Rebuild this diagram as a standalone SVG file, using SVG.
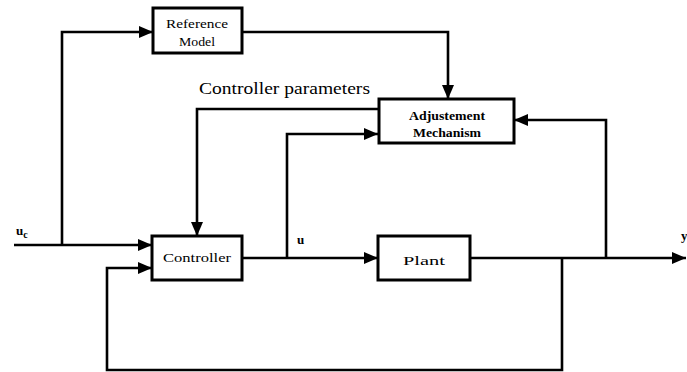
<svg xmlns="http://www.w3.org/2000/svg" width="687" height="372" viewBox="0 0 687 372">
<style>
.box{fill:#fff;stroke:#000;stroke-width:3}
.ln{fill:none;stroke:#000;stroke-width:2.6}
.t{font-family:"Liberation Serif","Times New Roman",serif;fill:#000}
.bt{font-family:"Liberation Serif","Times New Roman",serif;font-size:13px;text-anchor:middle;fill:#000}
</style>
<defs>
<marker id="ah" markerWidth="14" markerHeight="12" refX="14" refY="6" orient="auto" markerUnits="userSpaceOnUse">
<path d="M0,0 L14,6 L0,12 Z" fill="#000"/>
</marker>
</defs>
<rect width="687" height="372" fill="#fff"/>
<g id="connectors">
<path class="ln" d="M14,245 H152" marker-end="url(#ah)"/>
<path class="ln" d="M62,245 V32 H153" marker-end="url(#ah)"/>
<path class="ln" d="M242,32 H448 V99" marker-end="url(#ah)"/>
<path class="ln" d="M379,109 H197 V236" marker-end="url(#ah)"/>
<path class="ln" d="M242,258 H378" marker-end="url(#ah)"/>
<path class="ln" d="M287,258 V134 H378" marker-end="url(#ah)"/>
<path class="ln" d="M470,258 H686" marker-end="url(#ah)"/>
<path class="ln" d="M606,258 V120 H514" marker-end="url(#ah)"/>
<path class="ln" d="M562,258 V370 H107 V268 H152" marker-end="url(#ah)"/>
</g>
<g id="reference-model">
<rect class="box" x="153" y="8" width="89" height="45"/>
<text class="bt" x="197" y="28" textLength="62" lengthAdjust="spacingAndGlyphs">Reference</text>
<text class="bt" x="197" y="46" textLength="36" lengthAdjust="spacingAndGlyphs">Model</text>
</g>
<g id="adjustement-mechanism">
<rect class="box" x="379" y="99" width="135" height="44"/>
<text class="bt" x="447" y="120" font-weight="bold" font-size="12" textLength="76" lengthAdjust="spacingAndGlyphs">Adjustement</text>
<text class="bt" x="447" y="137" font-weight="bold" font-size="12" textLength="68" lengthAdjust="spacingAndGlyphs">Mechanism</text>
</g>
<g id="controller">
<rect class="box" x="152" y="236" width="90" height="44"/>
<text class="bt" x="197" y="262" font-size="14" textLength="68" lengthAdjust="spacingAndGlyphs">Controller</text>
</g>
<g id="plant">
<rect class="box" x="378" y="236" width="92" height="44"/>
<text class="bt" x="424" y="265" font-size="14" textLength="42" lengthAdjust="spacingAndGlyphs">Plant</text>
</g>
<text class="t" x="199" y="94" font-size="16" textLength="171" lengthAdjust="spacingAndGlyphs">Controller parameters</text>
<text class="t" x="16" y="235" font-size="13" font-weight="bold">u<tspan font-size="10" dy="3">c</tspan></text>
<text class="t" x="297" y="244" font-size="13" font-weight="bold">u</text>
<text class="t" x="681" y="240" font-size="13" font-weight="bold">y</text>
</svg>
